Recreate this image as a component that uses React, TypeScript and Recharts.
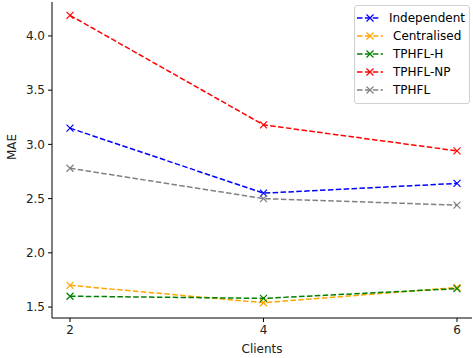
import { LineChart, Line, XAxis, YAxis, Legend } from 'recharts'

const clients = [2, 4, 6]
const independent = [3.15, 2.55, 2.64]
const centralised = [1.7, 1.54, 1.68]
const tphflH = [1.6, 1.58, 1.67]
const tphflNP = [4.19, 3.18, 2.94]
const tphfl = [2.78, 2.5, 2.44]

const yTicks = [1.5, 2.0, 2.5, 3.0, 3.5, 4.0]

const series = [
  { key: 'independent', label: 'Independent', color: '#0000ff', values: independent },
  { key: 'centralised', label: 'Centralised', color: '#ffa500', values: centralised },
  { key: 'tphflH', label: 'TPHFL-H', color: '#008000', values: tphflH },
  { key: 'tphflNP', label: 'TPHFL-NP', color: '#ff0000', values: tphflNP },
  { key: 'tphfl', label: 'TPHFL', color: '#808080', values: tphfl },
]

const data = clients.map((c, i) => {
  const row: Record<string, number> = { clients: c }
  series.forEach((s) => {
    row[s.key] = s.values[i]
  })
  return row
})

const FONT = 'DejaVu Sans, sans-serif'
const AXIS = '#000'

function XMark(props: any) {
  const { cx, cy, stroke } = props
  if (cx == null || cy == null) return null
  const r = 3.5
  return (
    <path
      d={`M${cx - r},${cy - r}L${cx + r},${cy + r}M${cx - r},${cy + r}L${cx + r},${cy - r}`}
      stroke={stroke}
      strokeWidth={1.2}
      fill="none"
    />
  )
}

function LegendBox() {
  return (
    <div
      style={{
        border: '1px solid #d0d0d0',
        borderRadius: 3,
        background: 'rgba(255,255,255,0.8)',
        padding: '3px 4px 4px 2px',
        fontFamily: FONT,
        fontSize: 12,
        color: '#000',
      }}
    >
      {series.map((s) => (
        <div key={s.key} style={{ display: 'flex', alignItems: 'center', height: 18 }}>
          <svg width={26} height={10} style={{ marginRight: 10 }}>
            <line x1={0} y1={5} x2={26} y2={5} stroke={s.color} strokeWidth={1.5} strokeDasharray="5.5 2.4" />
            <path d="M9.5,1.5L16.5,8.5M9.5,8.5L16.5,1.5" stroke={s.color} strokeWidth={1.2} />
          </svg>
          <span>{s.label}</span>
        </div>
      ))}
    </div>
  )
}

export default function App() {
  return (
    <div style={{ position: 'absolute', left: 0, top: 0 }}>
      <LineChart width={473} height={358} data={data} margin={{ top: 2, right: 1, bottom: 0, left: 0 }}>
        <XAxis
          dataKey="clients"
          type="number"
          domain={[1.814, 6.155]}
          ticks={clients}
          height={40}
          tick={{ fontSize: 12, fill: '#222', fontFamily: FONT }}
          tickSize={4}
          tickMargin={3}
          axisLine={{ stroke: AXIS }}
          tickLine={{ stroke: AXIS }}
          label={{ value: 'Clients', position: 'insideBottom', offset: 5, fontSize: 12, fill: '#222', fontFamily: FONT }}
        />
        <XAxis xAxisId="top" orientation="top" dataKey="clients" type="number" domain={[1.814, 6.155]} height={0} tick={false} tickLine={false} axisLine={{ stroke: AXIS }} />
        <YAxis
          type="number"
          domain={[1.399, 4.313]}
          ticks={yTicks}
          width={52}
          tickFormatter={(v: number) => v.toFixed(1)}
          tick={{ fontSize: 12, fill: '#222', fontFamily: FONT }}
          tickSize={4}
          tickMargin={3}
          axisLine={{ stroke: AXIS }}
          tickLine={{ stroke: AXIS }}
          label={{ value: 'MAE', angle: -90, position: 'insideLeft', offset: 12, fontSize: 12, fill: '#222', fontFamily: FONT }}
        />
        <YAxis yAxisId="right" orientation="right" domain={[1.399, 4.313]} width={0} tick={false} tickLine={false} axisLine={{ stroke: AXIS }} />
        <Legend
          verticalAlign="middle"
          align="center"
          content={() => <LegendBox />}
          wrapperStyle={{ top: 5, left: 354, width: 116 }}
        />
        {series.map((s) => (
          <Line
            key={s.key}
            type="linear"
            dataKey={s.key}
            name={s.label}
            stroke={s.color}
            strokeWidth={1.5}
            strokeDasharray="5.5 2.4"
            dot={<XMark />}
            activeDot={false}
            isAnimationActive={false}
          />
        ))}
      </LineChart>
    </div>
  )
}
